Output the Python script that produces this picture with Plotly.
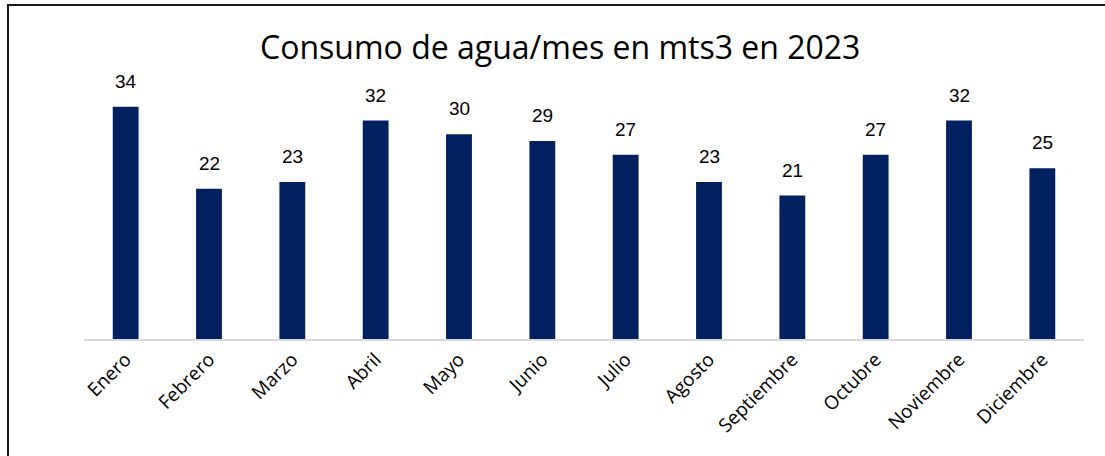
import plotly.graph_objects as go

months = ["Enero", "Febrero", "Marzo", "Abril", "Mayo", "Junio", "Julio",
          "Agosto", "Septiembre", "Octubre", "Noviembre", "Diciembre"]
consumo = [34, 22, 23, 32, 30, 29, 27, 23, 21, 27, 32, 25]
title_text = "Consumo de agua/mes en mts3 en 2023"

fig = go.Figure()
fig.add_trace(go.Bar(x=months, y=consumo, marker=dict(color="#002060", line=dict(width=0)),
                     hoverinfo="x+y"))

for m, v in zip(months, consumo):
    fig.add_annotation(x=m, y=v, text=str(v), showarrow=False, yanchor="bottom",
                       yshift=13, font=dict(family="Liberation Sans, Arial", size=19, color="#000000"))

fig.update_layout(
    width=1105, height=456,
    margin=dict(l=84, r=21, t=70, b=117),
    paper_bgcolor="white", plot_bgcolor="white",
    bargap=0.69,
    showlegend=False,
    title=dict(text=title_text, x=0.507, xref="container", xanchor="center", y=0.895, yanchor="middle",
               font=dict(family="Open Sans, Noto Sans", size=32, color="#000000")),
    xaxis=dict(tickangle=-45, showline=True, linecolor="#d9d9d9", linewidth=2, ticks="",
               tickfont=dict(family="Open Sans, Noto Sans", size=19, color="#000000"),
               showgrid=False, automargin=False),
    yaxis=dict(range=[0, 39.4], visible=False, showgrid=False, zeroline=False),
    shapes=[dict(type="rect", xref="paper", yref="paper", x0=-0.076, x1=1.06, y0=-0.5, y1=1.2416,
                 line=dict(color="#1a1a1a", width=2), fillcolor="rgba(0,0,0,0)", layer="above")],
)

fig.write_html("out.html", config={"displayModeBar": False},
               post_script="document.body.style.margin='0';")
